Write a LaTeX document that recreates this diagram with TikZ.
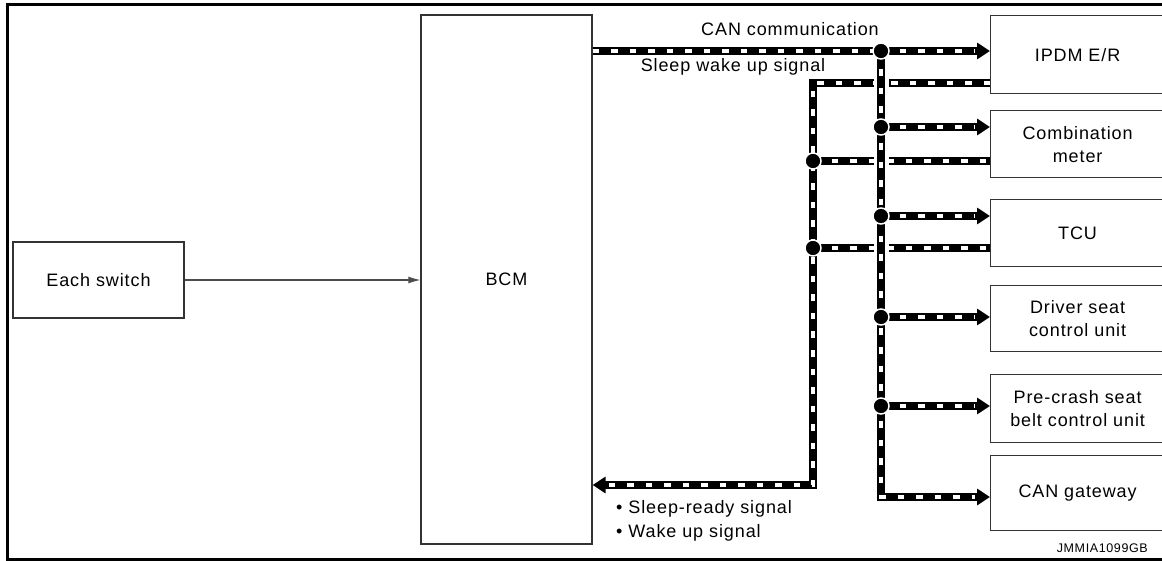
\documentclass[tikz,border=0pt]{standalone}
\usepackage{fontspec}
\setmainfont{Liberation Sans}[LetterSpace=5]
\usetikzlibrary{arrows.meta}

\begin{document}
\begin{tikzpicture}[x=1pt,y=-1pt,
    box/.style={draw=black!80,line width=1.2pt,inner sep=0pt,align=center,font=\fontsize{18}{23}\selectfont},
    unit/.style={box,anchor=north west,minimum width=174pt},
    lbl/.style={inner sep=0pt,anchor=base,font=\fontsize{18}{23}\selectfont},
    bus/.style={draw=black,line width=7.5pt,postaction={draw=white,line width=3.5pt,dash pattern=on 6.5pt off 12pt}},
    busarrow/.style={draw=black,line width=7.5pt,-{Triangle[length=13pt,width=16pt]},
      postaction={draw=white,line width=3.5pt,dash pattern=on 6.5pt off 12pt,arrows=-,shorten >=15pt}},
    halo/.style={preaction={draw=white,line width=15pt,arrows=-}},
    dot/.style={fill=black,draw=white,line width=1.5pt}]
      \useasboundingbox (0,0) rectangle (1162,561);
      \clip (0,0) rectangle (1162,561);
      \draw[line width=3pt] (1162,5) -- (7,5) -- (7,559.5) -- (1162,559.5);

      \node[box,minimum width=171pt,minimum height=76pt] (sw) at (98.5,280) {Each switch};
      \node[box,minimum width=171pt,minimum height=529pt] (bcm) at (506.5,279.5) {BCM};

      \node[unit,minimum height=78pt] (ipdm) at (990,15) {IPDM E/R};
      \node[unit,minimum height=67pt] (comb) at (990,110) {Combination\\meter};
      \node[unit,minimum height=67pt] (tcu) at (990,199) {TCU};
      \node[unit,minimum height=66pt] (drv) at (990,285) {Driver seat\\control unit};
      \node[unit,minimum height=68pt] (pcs) at (990,374) {Pre-crash seat\\belt control unit};
      \node[unit,minimum height=75pt] (gw) at (990,455) {CAN gateway};

      \coordinate (c0) at (881,51);
      \coordinate (c1) at (881,127);
      \coordinate (c2) at (881,216);
      \coordinate (c3) at (881,317);
      \coordinate (c4) at (881,406);
      \coordinate (c5) at (881,497);
      \coordinate (s0) at (813,83);
      \coordinate (s1) at (813,161);
      \coordinate (s2) at (813,248);
      \coordinate (s3) at (813,485);

      \draw[-{Latex[length=12pt,width=7pt]},line width=1.2pt,black!70] (sw.east) -- (sw.east -| bcm.west);

      \draw[busarrow] (ipdm.west |- s0) -- (s0) -- (s3) -- (bcm.east |- s3);
      \draw[bus] (s1) -- (comb.west |- s1);
      \draw[bus] (s2) -- (tcu.west |- s2);

      \draw[bus] (bcm.east |- c0) -- (c0);
      \draw[busarrow,halo] (c0) -- (c5) -- (gw.west |- c5);
      \foreach \j/\u in {c0/ipdm,c1/comb,c2/tcu,c3/drv,c4/pcs}
        \draw[busarrow] (\j) -- (\u.west |- \j);
      \foreach \j in {c0,c1,c2,c3,c4,s1,s2}
        \filldraw[dot] (\j) circle [radius=8pt];

      \node[lbl] (cantxt) at (790,36) {CAN communication};
      \node[lbl] (sleeptxt) at (733,72) {Sleep wake up signal};
      \node[lbl,anchor=base west] (rdytxt) at (616,513) {\textbullet\ Sleep-ready signal};
      \node[lbl,anchor=base west] (waketxt) at (616,537) {\textbullet\ Wake up signal};
      \node[lbl,anchor=base east,font=\fontsize{12.5}{15}\selectfont] (code) at (1148,552) {JMMIA1099GB};
    \end{tikzpicture}
\end{document}
